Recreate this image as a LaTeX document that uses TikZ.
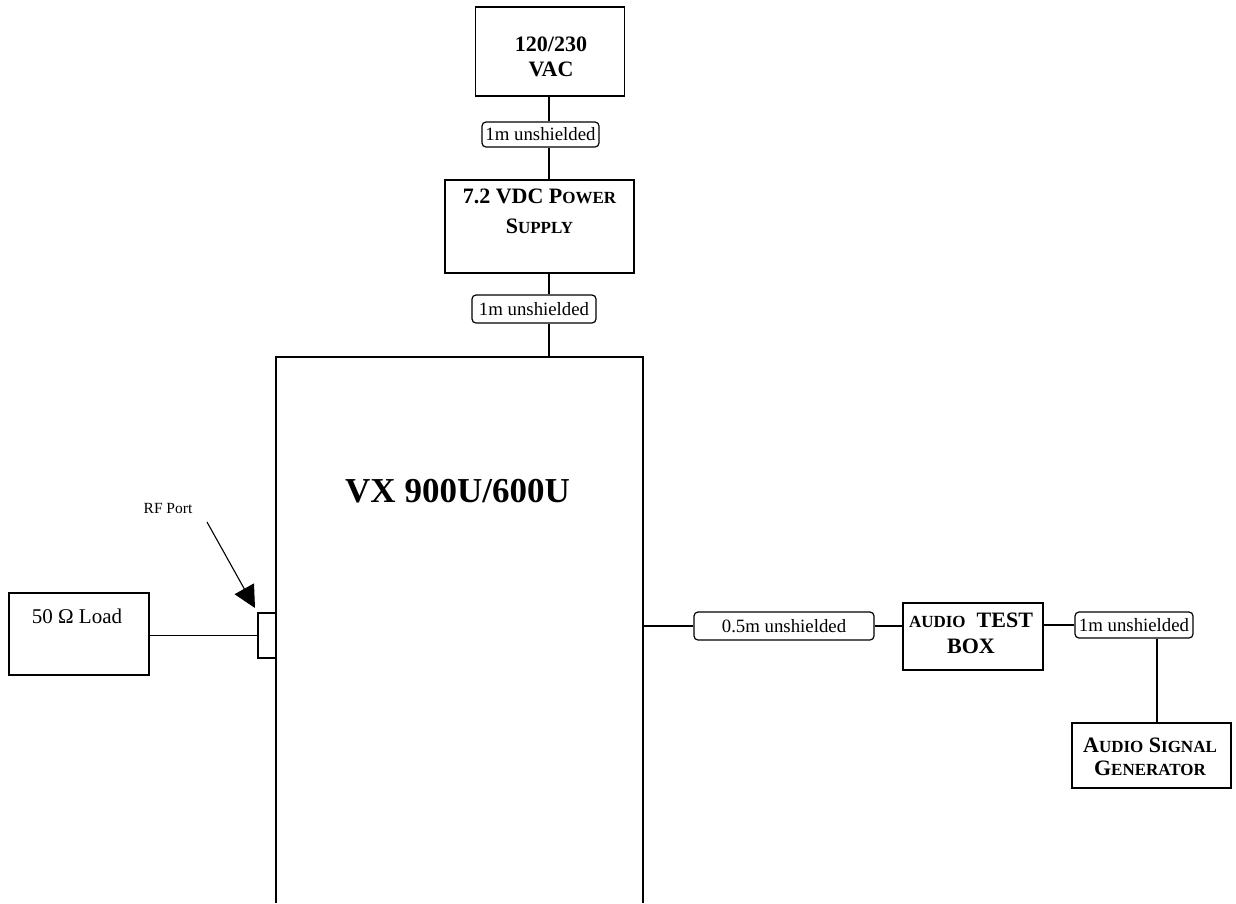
\documentclass[tikz,border=0pt]{standalone}
\usepackage{fontspec}
\setmainfont{Liberation Serif}
\usetikzlibrary{arrows.meta}
\newcommand\fsc[1]{{\fontsize{17}{20}\selectfont #1}}
\begin{document}
\begin{tikzpicture}[x=1pt,y=-1pt,
  box/.style={draw,line width=1.5pt,inner sep=0pt},
  cable/.style={draw,line width=1.2pt,rounded corners=4pt,inner sep=0pt},
  wire/.style={line width=1.5pt},
  btxt/.style={font=\fontsize{22}{25}\selectfont\bfseries,align=center,inner sep=0pt,anchor=base},
  ltxt/.style={font=\fontsize{18.8}{22}\selectfont,inner sep=0pt}]
\useasboundingbox (0,0) rectangle (1236,903);
% boxes
\node[box,minimum width=149pt,minimum height=89pt] (vac) at (550,51.5) {};
\node[btxt] (vact1) at (551,51) {120/230};
\node[btxt] (vact2) at (551,76) {VAC};
\node[cable,minimum width=117pt,minimum height=25pt] (lab1) at (540.5,134.5) {};
\node[ltxt] (lab1t) at (lab1.center) {1m unshielded};
\node[box,minimum width=189pt,minimum height=93pt] (psu) at (539.5,226.5) {};
\node[btxt] (psut1) at (539.5,203) {7.2 VDC P\fsc{OWER}};
\node[btxt] (psut2) at (539.5,233) {S\fsc{UPPLY}};
\node[cable,minimum width=124pt,minimum height=28pt] (lab2) at (534,309) {};
\node[ltxt] (lab2t) at (lab2.center) {1m unshielded};
% main unit (open at the bottom)
\coordinate (mbl) at (276,903);
\coordinate (mtl) at (276,357);
\coordinate (mtr) at (643,357);
\coordinate (mbr) at (643,903);
\draw[wire] (mbl) -- (mtl) -- (mtr) -- (mbr);
\node[font=\fontsize{35}{40}\selectfont\bfseries,inner sep=0pt,anchor=base] (vx) at (457.5,502) {VX 900U/600U};
% port and load
\node[box,minimum width=18pt,minimum height=45pt] (port) at (267,635.5) {};
\node[box,minimum width=140pt,minimum height=82pt] (load) at (79,634) {};
\node[font=\fontsize{21}{24}\selectfont,inner sep=0pt,anchor=base] (loadt) at (77,623) {50 Ω Load};
\node[font=\fontsize{15.5}{18}\selectfont,inner sep=0pt] (rft) at (168,508) {RF Port};
\coordinate (rfa) at (207,522);
\coordinate (rfb) at (255,608);
\draw[line width=1.1pt,-{Triangle[length=22pt,width=22pt]}] (rfa) -- (rfb);
% right side
\node[cable,minimum width=180pt,minimum height=28pt] (lab3) at (784,626) {};
\node[ltxt] (lab3t) at (lab3.center) {0.5m unshielded};
\node[box,minimum width=140pt,minimum height=67pt] (atb) at (973,636.5) {};
\node[btxt] (atbt1) at (971,627) {\fsc{AUDIO}\ \ TEST};
\node[btxt] (atbt2) at (971,653) {BOX};
\node[cable,minimum width=118pt,minimum height=26pt] (lab4) at (1134,625) {};
\node[ltxt] (lab4t) at (lab4.center) {1m unshielded};
\node[box,minimum width=159pt,minimum height=65pt] (asg) at (1151.5,755.5) {};
\node[btxt] (asgt1) at (1150,752) {A\fsc{UDIO} S\fsc{IGNAL}};
\node[btxt] (asgt2) at (1150,775) {G\fsc{ENERATOR}};
% wires
\coordinate (vx1) at (549,0);
\draw[wire] (vac.south -| vx1) -- (lab1.north -| vx1);
\draw[wire] (lab1.south -| vx1) -- (psu.north -| vx1);
\draw[wire] (psu.south -| vx1) -- (lab2.north -| vx1);
\draw[wire] (lab2.south -| vx1) -- (mtl -| vx1);
\draw[wire] (load.east |- port.west) -- (port.west);
\draw[wire] (mtr |- lab3.west) -- (lab3.west);
\draw[wire] (lab3.east) -- (lab3.east -| atb.west);
\draw[wire] (atb.east |- lab4.west) -- (lab4.west);
\coordinate (vx2) at (1157,0);
\draw[wire] (lab4.south -| vx2) -- (asg.north -| vx2);
\end{tikzpicture}
\end{document}
